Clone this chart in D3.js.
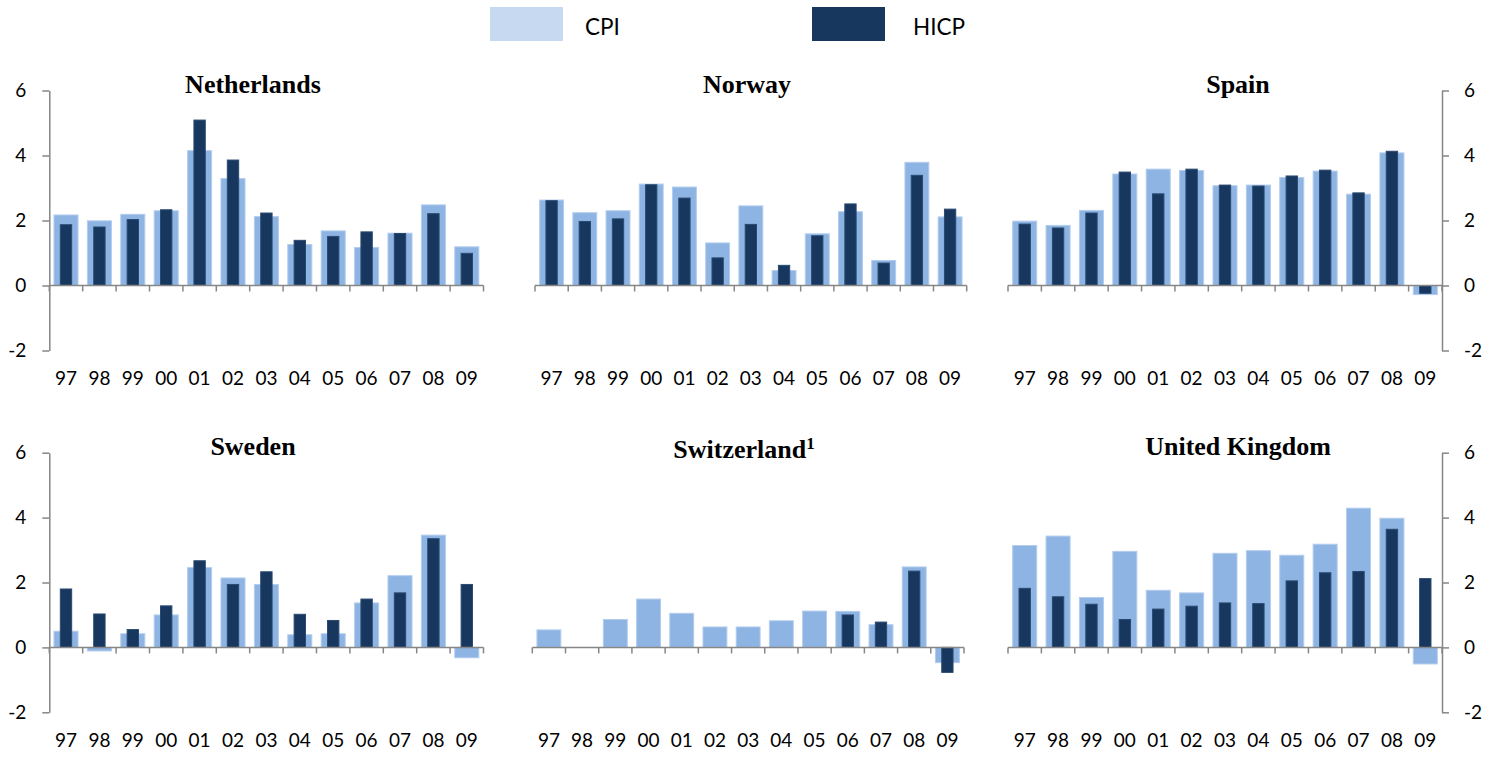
<!DOCTYPE html>
<html>
<head>
<meta charset="utf-8">
<script src="https://d3js.org/d3.v7.min.js"></script>
<style>
  body { margin: 0; background: #fff; }
  svg text { font-family: Lato, "Open Sans", sans-serif; fill: #000; }
  .title { font-family: "Liberation Serif", "Times New Roman", serif; font-weight: bold; }
</style>
</head>
<body>
<svg id="chart" width="1499" height="757"></svg>
<script>
// ---- data (annual inflation, %) ----
var years = ["97", "98", "99", "00", "01", "02", "03", "04", "05", "06", "07", "08", "09"];
var yTicks = [-2, 0, 2, 4, 6];
var seriesNames = ["CPI", "HICP"];

var nlCPI  = [2.17, 1.99, 2.19, 2.30, 4.15, 3.29, 2.12, 1.26, 1.68, 1.17, 1.61, 2.48, 1.19];
var nlHICP = [1.87, 1.80, 2.03, 2.33, 5.09, 3.86, 2.23, 1.39, 1.51, 1.65, 1.60, 2.21, 0.99];

var noCPI  = [2.63, 2.24, 2.30, 3.12, 3.03, 1.31, 2.45, 0.46, 1.59, 2.27, 0.77, 3.79, 2.11];
var noHICP = [2.61, 1.97, 2.05, 3.10, 2.69, 0.85, 1.88, 0.62, 1.53, 2.51, 0.69, 3.39, 2.35];

var esCPI  = [1.98, 1.85, 2.31, 3.43, 3.58, 3.54, 3.07, 3.09, 3.32, 3.52, 2.81, 4.08, -0.28];
var esHICP = [1.89, 1.77, 2.23, 3.49, 2.82, 3.58, 3.09, 3.06, 3.37, 3.55, 2.85, 4.13, -0.24];

var seCPI  = [0.50, -0.11, 0.42, 1.00, 2.46, 2.14, 1.94, 0.39, 0.42, 1.37, 2.21, 3.46, -0.32];
var seHICP = [1.80, 1.03, 0.55, 1.28, 2.67, 1.94, 2.33, 1.02, 0.83, 1.49, 1.68, 3.35, 1.94];

var chCPI  = [0.54, null, 0.86, 1.49, 1.05, 0.63, 0.63, 0.82, 1.12, 1.11, 0.70, 2.48, -0.47];
var chHICP = [null, null, null, null, null, null, null, null, null, 1.00, 0.78, 2.35, -0.77];

var ukCPI  = [3.14, 3.43, 1.54, 2.96, 1.76, 1.68, 2.90, 2.98, 2.84, 3.18, 4.29, 3.98, -0.51];
var ukHICP = [1.82, 1.56, 1.33, 0.86, 1.18, 1.27, 1.37, 1.35, 2.05, 2.30, 2.34, 3.64, 2.12];

// ---- layout ----
var svg = d3.select("#chart");
var cpiColor = "#8db4e2", hicpColor = "#17375e", legendCpi = "#c6d9f1", axisColor = "#868686";
var fs = 19;

var panels = [
  {name: "Netherlands",    cpi: nlCPI, hicp: nlHICP, x0: 49.3,  x1: 483.5, top: 90.5,  bottom: 350.5, axis: "left",  tx: 253,  ty: 93},
  {name: "Norway",         cpi: noCPI, hicp: noHICP, x0: 535,   x1: 966.7, top: 90.5,  bottom: 350.5, axis: null,    tx: 747,  ty: 93},
  {name: "Spain",          cpi: esCPI, hicp: esHICP, x0: 1008,  x1: 1442,  top: 90.5,  bottom: 350.5, axis: "right", tx: 1238, ty: 93},
  {name: "Sweden",         cpi: seCPI, hicp: seHICP, x0: 49.3,  x1: 483.5, top: 452.7, bottom: 712.3, axis: "left",  tx: 253,  ty: 455},
  {name: "Switzerland",    cpi: chCPI, hicp: chHICP, x0: 532.3, x1: 964,   top: 452.7, bottom: 712.3, axis: null,    tx: 744,  ty: 458, note: "1"},
  {name: "United Kingdom", cpi: ukCPI, hicp: ukHICP, x0: 1008,  x1: 1442,  top: 452.7, bottom: 712.3, axis: "right", tx: 1238, ty: 455}
];

// legend
var legend = svg.append("g");
legend.selectAll("rect")
  .data(seriesNames)
  .enter().append("rect")
    .attr("x", function(d, i) { return i ? 812 : 490; })
    .attr("y", 7)
    .attr("width", 73)
    .attr("height", 34)
    .attr("fill", function(d, i) { return i ? hicpColor : legendCpi; });
legend.selectAll("text")
  .data(seriesNames)
  .enter().append("text")
    .attr("x", function(d, i) { return i ? 913 : 585; })
    .attr("y", 35)
    .style("font-size", "22.5px")
    .text(function(d) { return d; });

panels.forEach(function(p) {
  var g = svg.append("g");

  var x = d3.scaleBand().domain(years).range([p.x0, p.x1]).paddingInner(0).paddingOuter(0);
  var y = d3.scaleLinear().domain([-2, 6]).range([p.bottom, p.top]);
  var bw = x.bandwidth();

  // title
  var t = g.append("text")
    .attr("class", "title")
    .attr("x", p.tx)
    .attr("y", p.ty)
    .attr("text-anchor", "middle")
    .style("font-size", "26px")
    .text(p.name);
  if (p.note) {
    t.append("tspan")
      .attr("dy", -9)
      .style("font-size", "17px")
      .text(p.note);
  }

  // bars: CPI wide behind, HICP narrow in front
  function bars(vals, frac, color, stroke) {
    g.append("g").selectAll("rect")
      .data(years.map(function(yr, i) { return {yr: yr, v: vals[i]}; })
                 .filter(function(d) { return d.v !== null; }))
      .enter().append("rect")
        .attr("x", function(d) { return x(d.yr) + bw * (1 - frac) / 2; })
        .attr("width", bw * frac)
        .attr("y", function(d) { return y(Math.max(0, d.v)); })
        .attr("height", function(d) { return Math.abs(y(d.v) - y(0)); })
        .attr("fill", color)
        .attr("stroke", stroke)
        .attr("stroke-width", 1);
  }
  bars(p.cpi, 0.72, cpiColor, "#b4cdee");
  bars(p.hicp, 0.34, hicpColor, "#2a4a72");

  // zero line with ticks at band edges
  var edges = years.map(function(d) { return x(d); }).concat([p.x1]);
  g.append("line")
    .attr("x1", p.x0).attr("x2", p.x1)
    .attr("y1", y(0)).attr("y2", y(0))
    .attr("stroke", axisColor).attr("stroke-width", 1.5);
  g.append("g").selectAll("line")
    .data(edges)
    .enter().append("line")
      .attr("x1", function(d) { return d; }).attr("x2", function(d) { return d; })
      .attr("y1", y(0)).attr("y2", y(0) + 6)
      .attr("stroke", axisColor).attr("stroke-width", 1.5);

  // year labels along the bottom
  var xa = g.append("g")
    .attr("transform", "translate(0," + p.bottom + ")")
    .call(d3.axisBottom(x).tickSize(0).tickPadding(21));
  xa.select(".domain").remove();
  xa.selectAll("text").style("font-size", fs + "px").attr("fill", "#000");

  // y axis (outer panels only)
  if (p.axis) {
    var left = p.axis === "left";
    var ya = g.append("g")
      .attr("transform", "translate(" + (left ? p.x0 : p.x1) + ",0)")
      .call((left ? d3.axisLeft(y) : d3.axisRight(y))
        .tickValues(yTicks).tickSize(7).tickSizeOuter(0).tickPadding(left ? 16 : 15)
        .tickFormat(function(d) { return String(d); }));
    ya.select(".domain").attr("stroke", axisColor).attr("stroke-width", 1.5);
    ya.selectAll(".tick line").attr("stroke", axisColor).attr("stroke-width", 1.5);
    ya.selectAll("text").style("font-size", fs + "px").attr("fill", "#000");
  }
});
</script>
</body>
</html>
